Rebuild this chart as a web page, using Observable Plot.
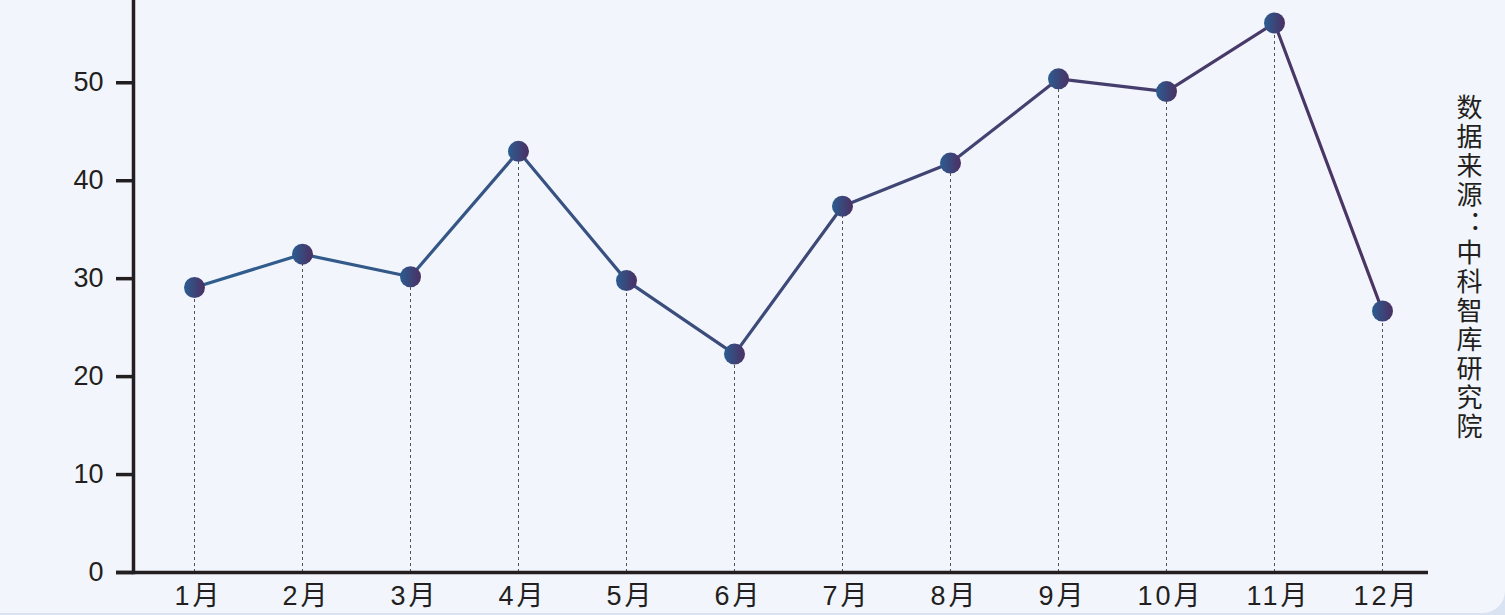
<!DOCTYPE html>
<html>
<head>
<meta charset="utf-8">
<script src="https://cdn.jsdelivr.net/npm/d3@7"></script>
<script src="https://cdn.jsdelivr.net/npm/@observablehq/plot@0.6"></script>
<style>
  html, body { margin: 0; padding: 0; background: #d9e3f1; }
  #panel { position: relative; width: 1505px; height: 613px; background: #f2f5fb; border-bottom-right-radius: 22px; overflow: hidden; }
  #chart svg { display: block; }
  #source { position: absolute; left: 1456px; top: 94px; writing-mode: vertical-rl; text-orientation: upright;
    font-family: "Noto Sans CJK SC", sans-serif; font-size: 26px; line-height: 1; color: #231f20; letter-spacing: 3px; }
</style>
</head>
<body>
<div id="panel">
  <div id="chart"></div>
  <div id="source">数据来源：中科智库研究院</div>
</div>
<script>
const months = ["1月","2月","3月","4月","5月","6月","7月","8月","9月","10月","11月","12月"];
const values = [29.1, 32.5, 30.2, 43.0, 29.8, 22.3, 37.4, 41.8, 50.4, 49.1, 56.1, 26.7];
const yTicks = [0, 10, 20, 30, 40, 50];

const data = months.map((m, i) => ({month: m, value: values[i]}));

const plot = Plot.plot({
  width: 1505,
  height: 615,
  marginTop: 0,
  marginLeft: 133,
  marginRight: 77,
  marginBottom: 43,
  style: {background: "transparent", fontFamily: "'Liberation Sans', 'Noto Sans CJK SC', sans-serif", color: "#231f20", fontSize: "27px"},
  x: {type: "point", domain: months, range: [190, 1385], padding: 0, label: null},
  y: {domain: [0, 58.4], label: null},
  marks: [
    Plot.ruleX(data, {x: "month", y1: 0, y2: "value", stroke: "#555", strokeWidth: 1, strokeDasharray: "3,3"}),
    Plot.ruleY([0], {stroke: "#231f20", strokeWidth: 3.5, insetLeft: -17}),
    Plot.frame({anchor: "left", stroke: "#231f20", strokeWidth: 3.5}),
    Plot.axisY({ticks: yTicks, tickSize: 17, tickPadding: 13, strokeWidth: 3.5, fontSize: 27, tickFormat: d => d}),
    Plot.axisX({tickSize: 0, tickPadding: 13, fontSize: 27, dx: 4}),
    Plot.line(data, {x: "month", y: "value", stroke: "url(#lineGrad)", strokeWidth: 3.2}),
    Plot.dot(data, {x: "month", y: "value", r: 10.5, fill: "url(#dotGrad)", stroke: "none"})
  ]
});

const svg = d3.select(plot);
const defs = svg.insert("defs", ":first-child");
const lg = defs.append("linearGradient").attr("id", "lineGrad")
  .attr("gradientUnits", "userSpaceOnUse").attr("x1", 195).attr("x2", 1381).attr("y1", 0).attr("y2", 0);
lg.append("stop").attr("offset", "0%").attr("stop-color", "#2f5f8f");
lg.append("stop").attr("offset", "100%").attr("stop-color", "#4b3462");
const dg = defs.append("linearGradient").attr("id", "dotGrad").attr("x1", 0).attr("x2", 1).attr("y1", 0).attr("y2", 0);
dg.append("stop").attr("offset", "0%").attr("stop-color", "#2a5d91");
dg.append("stop").attr("offset", "100%").attr("stop-color", "#4c2f62");
svg.selectAll("[aria-label='x-axis tick label']").attr("letter-spacing", 3);

document.getElementById("chart").appendChild(plot);
</script>
</body>
</html>
